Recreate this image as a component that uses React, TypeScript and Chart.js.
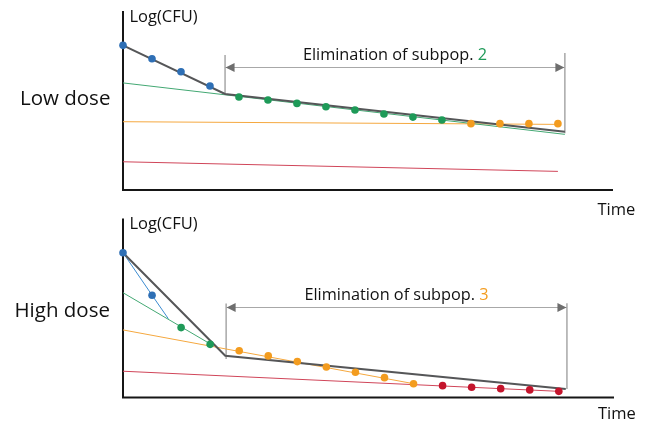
import React, { useEffect, useRef } from "react";
import { Chart, registerables } from "chart.js";

Chart.register(...registerables);

const FONT = "'Open Sans', 'Noto Sans', sans-serif";
const TIME_MAX = 16.9;
const LOG_MAX = 10;

// ---------- Low dose panel ----------
const lowBlueT = [0, 1, 2, 3];
const lowBlueY = [8.07, 7.32, 6.59, 5.79];
const lowGreenT = [4, 5, 6, 7, 8, 9, 10, 11];
const lowGreenY = [5.17, 5.0, 4.81, 4.62, 4.44, 4.21, 4.04, 3.88];
const lowOrangeT = [12, 13, 14, 15];
const lowOrangeY = [3.67, 3.67, 3.67, 3.67];
const lowTotalT = [0, 3.52, 15.24];
const lowTotalY = [8.07, 5.34, 3.22];
const lowGreenFitT = [0, 15.24];
const lowGreenFitY = [5.96, 3.07];
const lowOrangeFitT = [0, 15];
const lowOrangeFitY = [3.78, 3.63];
const lowRedFitT = [0, 15];
const lowRedFitY = [1.53, 0.99];
const lowSpanT = [3.52, 15.24];
const lowSpanLevel = 6.88;
const lowSpanTop = [7.53, 7.64];
const lowSpanBottom = [5.34, 3.13];

// ---------- High dose panel ----------
const highBlueT = [0, 1];
const highBlueY = [8.08, 5.69];
const highGreenT = [2, 3];
const highGreenY = [3.87, 2.93];
const highOrangeT = [4, 5, 6, 7, 8, 9, 10];
const highOrangeY = [2.57, 2.28, 1.96, 1.66, 1.36, 1.06, 0.72];
const highRedT = [11, 12, 13, 14, 15];
const highRedY = [0.61, 0.52, 0.44, 0.37, 0.29];
const highTotalT = [0, 3.52, 15.24];
const highTotalY = [8.08, 2.29, 0.42];
const highBlueFitT = [0, 1, 1.56];
const highBlueFitY = [8.08, 5.69, 4.37];
const highGreenFitT = [0, 3.1];
const highGreenFitY = [5.83, 2.86];
const highOrangeFitT = [0, 10];
const highOrangeFitY = [3.74, 0.72];
const highRedFitT = [0, 15];
const highRedFitY = [1.42, 0.29];
const highSpanT = [3.55, 15.28];
const highSpanLevel = 5.01;
const highSpanTop = [5.22, 5.24];
const highSpanBottom = [2.11, 0.42];

const C = {
  axis: "#161616",
  total: "#555658",
  blue: "#2e6fb5",
  blueLine: "#3b8bd0",
  green: "#1e9a58",
  greenLine: "#43a873",
  orange: "#f39c1f",
  orangeLine: "#f5a83f",
  red: "#c4142c",
  redLine: "#d04559",
  annot: "#a8a8a8",
  head: "#6e6e6e",
  text: "#111111",
};

const pts = (ts: number[], ys: number[]) => ts.map((t, i) => ({ x: t, y: ys[i] }));

const line = (ts: number[], ys: number[], color: string, width: number) => ({
  data: pts(ts, ys),
  borderColor: color,
  borderWidth: width,
  pointRadius: 0,
  fill: false,
  tension: 0,
  clip: false as any,
  showLine: true,
});

const dots = (ts: number[], ys: number[], color: string) => ({
  data: pts(ts, ys),
  showLine: false,
  pointRadius: 3.8,
  pointBackgroundColor: color,
  pointBorderWidth: 0,
  borderColor: color,
  backgroundColor: color,
  clip: false as any,
});

type Spec = {
  datasets: any[];
  padding: { left: number; right: number; top: number; bottom: number };
  dose: string;
  doseX: number;
  doseBaseline: number;
  timeX: number;
  timeGap: number;
  spanT: number[];
  spanLevel: number;
  spanTop: number[];
  spanBottom: number[];
  subpop: string;
  subpopColor: string;
};

const decor = (s: Spec) => ({
  id: "decor",
  beforeDatasetsDraw(chart: any) {
    const { ctx } = chart;
    const xs = chart.scales.x;
    const ys = chart.scales.y;
    const x0 = xs.getPixelForValue(0);
    const y0 = ys.getPixelForValue(0);
    ctx.save();
    // axes
    ctx.strokeStyle = C.axis;
    ctx.lineWidth = 2;
    ctx.beginPath();
    ctx.moveTo(x0, ys.getPixelForValue(LOG_MAX));
    ctx.lineTo(x0, y0 + 1);
    ctx.lineTo(xs.getPixelForValue(TIME_MAX), y0 + 1);
    ctx.stroke();
    // elimination span
    const xa = xs.getPixelForValue(s.spanT[0]);
    const xb = xs.getPixelForValue(s.spanT[1]);
    const yl = Math.round(ys.getPixelForValue(s.spanLevel)) + 0.5;
    ctx.strokeStyle = C.annot;
    ctx.lineWidth = 1.5;
    ctx.beginPath();
    ctx.moveTo(xa, ys.getPixelForValue(s.spanTop[0]));
    ctx.lineTo(xa, ys.getPixelForValue(s.spanBottom[0]));
    ctx.moveTo(xb, ys.getPixelForValue(s.spanTop[1]));
    ctx.lineTo(xb, ys.getPixelForValue(s.spanBottom[1]));
    ctx.stroke();
    ctx.lineWidth = 1;
    ctx.beginPath();
    ctx.moveTo(xa, yl);
    ctx.lineTo(xb, yl);
    ctx.stroke();
    ctx.fillStyle = C.head;
    ctx.beginPath();
    ctx.moveTo(xa + 0.5, yl);
    ctx.lineTo(xa + 9.5, yl - 4.5);
    ctx.lineTo(xa + 9.5, yl + 4.5);
    ctx.closePath();
    ctx.fill();
    ctx.beginPath();
    ctx.moveTo(xb - 0.5, yl);
    ctx.lineTo(xb - 9.5, yl - 4.5);
    ctx.lineTo(xb - 9.5, yl + 4.5);
    ctx.closePath();
    ctx.fill();
    ctx.restore();
  },
  afterDatasetsDraw(chart: any) {
    const { ctx, chartArea } = chart;
    const xs = chart.scales.x;
    const ys = chart.scales.y;
    ctx.save();
    ctx.fillStyle = C.text;
    ctx.textBaseline = "alphabetic";
    ctx.textAlign = "left";
    // y axis title
    ctx.font = `16.5px ${FONT}`;
    ctx.fillText("Log(CFU)", xs.getPixelForValue(0) + 6.5, chartArea.top + 10.5);
    // x axis title
    ctx.font = `16.5px ${FONT}`;
    ctx.fillText("Time", s.timeX, ys.getPixelForValue(0) + s.timeGap);
    // dose label
    ctx.font = `20.5px ${FONT}`;
    ctx.fillText(s.dose, s.doseX, s.doseBaseline);
    // elimination label
    ctx.font = `16.3px ${FONT}`;
    const main = "Elimination of subpop. ";
    const wMain = ctx.measureText(main).width;
    const wNum = ctx.measureText(s.subpop).width;
    const xa = xs.getPixelForValue(s.spanT[0]);
    const xb = xs.getPixelForValue(s.spanT[1]);
    const start = (xa + xb) / 2 - (wMain + wNum) / 2;
    const by = ys.getPixelForValue(s.spanLevel) - 7;
    ctx.fillText(main, start, by);
    ctx.fillStyle = s.subpopColor;
    ctx.fillText(s.subpop, start + wMain, by);
    ctx.restore();
  },
});

const lowSpec: Spec = {
  datasets: [
    dots(lowBlueT, lowBlueY, C.blue),
    dots(lowGreenT, lowGreenY, C.green),
    dots(lowOrangeT, lowOrangeY, C.orange),
    line(lowTotalT, lowTotalY, C.total, 2),
    line(lowGreenFitT, lowGreenFitY, C.greenLine, 1),
    line(lowOrangeFitT, lowOrangeFitY, C.orangeLine, 1),
    line(lowRedFitT, lowRedFitY, C.redLine, 1),
  ],
  padding: { left: 123, right: 39, top: 11, bottom: 35 },
  dose: "Low dose",
  doseX: 20,
  doseBaseline: 105,
  timeX: 597.5,
  timeGap: 26,
  spanT: lowSpanT,
  spanLevel: lowSpanLevel,
  spanTop: lowSpanTop,
  spanBottom: lowSpanBottom,
  subpop: "2",
  subpopColor: C.green,
};

const highSpec: Spec = {
  datasets: [
    dots(highBlueT, highBlueY, C.blue),
    dots(highGreenT, highGreenY, C.green),
    dots(highOrangeT, highOrangeY, C.orange),
    dots(highRedT, highRedY, C.red),
    line(highTotalT, highTotalY, C.total, 2),
    line(highBlueFitT, highBlueFitY, C.blueLine, 1),
    line(highGreenFitT, highGreenFitY, C.greenLine, 1),
    line(highOrangeFitT, highOrangeFitY, C.orangeLine, 1),
    line(highRedFitT, highRedFitY, C.redLine, 1),
  ],
  padding: { left: 123, right: 38, top: 18.5, bottom: 27.5 },
  dose: "High dose",
  doseX: 14.5,
  doseBaseline: 117,
  timeX: 598,
  timeGap: 22.5,
  spanT: highSpanT,
  spanLevel: highSpanLevel,
  spanTop: highSpanTop,
  spanBottom: highSpanBottom,
  subpop: "3",
  subpopColor: C.orange,
};

function Panel({ spec, top }: { spec: Spec; top: number }) {
  const ref = useRef<HTMLCanvasElement>(null);
  useEffect(() => {
    if (!ref.current) return;
    const chart = new Chart(ref.current, {
      type: "line",
      data: { datasets: spec.datasets },
      options: {
        animation: false,
        responsive: false,
        maintainAspectRatio: false,
        events: [],
        layout: { padding: spec.padding },
        plugins: { legend: { display: false }, tooltip: { enabled: false } },
        scales: {
          x: { type: "linear", min: 0, max: TIME_MAX, display: false },
          y: { type: "linear", min: 0, max: LOG_MAX, display: false },
        },
      } as any,
      plugins: [decor(spec)],
    });
    return () => chart.destroy();
  }, [spec]);
  return (
    <canvas
      ref={ref}
      width={652}
      height={224}
      style={{ position: "absolute", left: 0, top, width: 652, height: 224 }}
    />
  );
}

export default function App() {
  return (
    <div style={{ position: "fixed", left: 0, top: 0, width: 652, height: 424, background: "#fff" }}>
      <Panel spec={lowSpec} top={0} />
      <Panel spec={highSpec} top={200} />
    </div>
  );
}
